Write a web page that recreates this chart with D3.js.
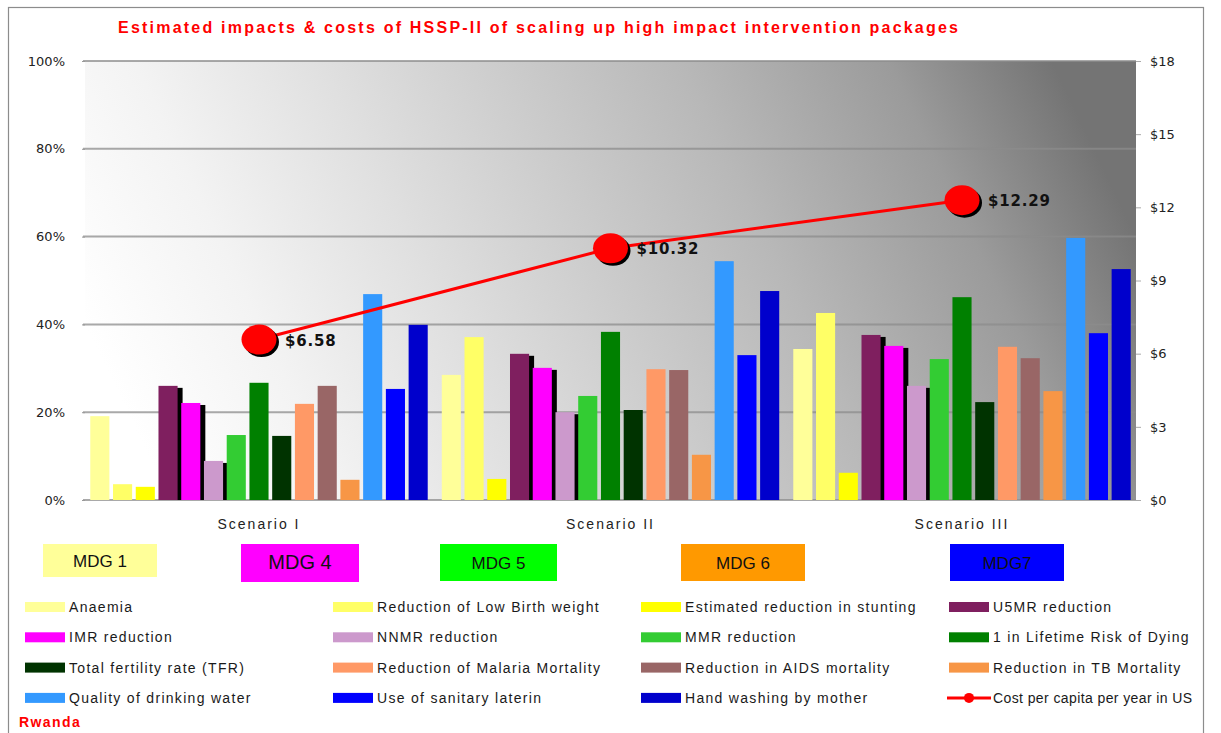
<!DOCTYPE html>
<html>
<head>
<meta charset="utf-8">
<script src="https://cdn.jsdelivr.net/npm/d3@7"></script>
<style>
  body { margin: 0; background: #fff; }
  svg { font-family: 'Liberation Sans', Arial, sans-serif; }
</style>
</head>
<body>
<div id="chart"></div>
<script>
// chart data
var scenarios = ['Scenario I', 'Scenario II', 'Scenario III'];
var seriesNames = ['Anaemia', 'Reduction of Low Birth weight', 'Estimated reduction in stunting', 'U5MR reduction',
	'IMR reduction', 'NNMR reduction', 'MMR reduction', '1 in Lifetime Risk of Dying',
	'Total fertility rate (TFR)', 'Reduction of Malaria Mortality', 'Reduction in AIDS mortality', 'Reduction in TB Mortality',
	'Quality of drinking water', 'Use of sanitary laterin', 'Hand washing by mother'];
var seriesColors = ['#FFFF99', '#FFFF66', '#FFFF00', '#7F1F5F', '#FF00FF', '#CC99CC', '#33CC33', '#008000',
	'#003300', '#FF9966', '#996666', '#F79646', '#3399FF', '#0000FF', '#0000CC'];
var shadowSeries = ['U5MR reduction', 'IMR reduction', 'NNMR reduction'];
// % impact per series, one array per scenario
var scenario1Values = [19.1, 3.6, 3.0, 26.0, 22.1, 8.9, 14.8, 26.7, 14.6, 21.9, 26.0, 4.6, 46.9, 25.3, 39.9];
var scenario2Values = [28.5, 37.1, 4.8, 33.3, 30.1, 20.0, 23.7, 38.3, 20.5, 29.8, 29.6, 10.3, 54.4, 33.0, 47.6];
var scenario3Values = [34.4, 42.6, 6.2, 37.6, 35.1, 26.0, 32.1, 46.2, 22.3, 34.9, 32.3, 24.8, 59.7, 38.0, 52.6];
var costName = 'Cost per capita per year in US';
var costValues = [6.58, 10.32, 12.29];
var leftTicks = [0, 20, 40, 60, 80, 100];
var rightTicks = [0, 3, 6, 9, 12, 15, 18];
var mdgLabels = ['MDG 1', 'MDG 4', 'MDG 5', 'MDG 6', 'MDG7'];
var mdgColors = ['#FFFF99', '#FF00FF', '#00FF00', '#FF9900', '#0000FF'];
var titleText = 'Estimated impacts & costs of HSSP-II of scaling up high impact intervention packages';

var width = 1221, height = 733;
var plot = {left: 85, right: 1136, top: 61, bottom: 500};
var axisFont = "'DejaVu Sans', sans-serif";

var svg = d3.select('#chart').append('svg')
	.attr('width', width)
	.attr('height', height);

var defs = svg.append('defs');
var grad = defs.append('linearGradient').attr('id', 'bgGrad')
	.attr('x1', 0).attr('y1', 0.6).attr('x2', 1).attr('y2', 0.4);
[[0, '#ffffff'], [0.16, '#f3f3f3'], [0.33, '#e0e0e0'], [0.66, '#b8b8b8'], [0.85, '#9b9b9b'], [1, '#747474']]
	.forEach(function(s) {
		grad.append('stop').attr('offset', s[0]).attr('stop-color', s[1]);
	});
defs.append('clipPath').attr('id', 'frameClip')
	.append('rect').attr('x', 8).attr('y', 7).attr('width', 1196).attr('height', 740);

var root = svg.append('g').attr('clip-path', 'url(#frameClip)');

// outer frame
svg.append('rect')
	.attr('x', 8.5).attr('y', 7.5)
	.attr('width', 1195).attr('height', 740)
	.attr('fill', 'none')
	.attr('stroke', '#8c8c8c')
	.attr('stroke-width', 1.2);

// title
root.append('text')
	.attr('x', 538).attr('y', 33)
	.attr('text-anchor', 'middle')
	.attr('fill', '#FF0000')
	.attr('font-weight', 'bold')
	.attr('font-size', 16)
	.attr('textLength', 840)
	.attr('lengthAdjust', 'spacing')
	.text(titleText);

// scales
var x0 = d3.scaleBand().domain(scenarios)
	.range([plot.left, plot.right])
	.paddingInner(0.04).paddingOuter(0.015);
var x1 = d3.scaleBand().domain(seriesNames)
	.range([0, x0.bandwidth()])
	.paddingInner(0.16);
var yL = d3.scaleLinear().domain([0, 100]).range([plot.bottom, plot.top]);
var yR = d3.scaleLinear().domain([0, 18]).range([plot.bottom, plot.top]);

// plot background
root.append('rect')
	.attr('x', plot.left).attr('y', plot.top)
	.attr('width', plot.right - plot.left)
	.attr('height', plot.bottom - plot.top)
	.attr('fill', 'url(#bgGrad)');

// gridlines
root.append('g').selectAll('line')
	.data(leftTicks)
	.enter().append('line')
	.attr('x1', plot.left - 2).attr('x2', plot.right)
	.attr('y1', function(d) { return yL(d); })
	.attr('y2', function(d) { return yL(d); })
	.attr('stroke', '#8c8c8c')
	.attr('stroke-opacity', 0.75)
	.attr('stroke-width', 2);

// left axis
var leftAxis = root.append('g')
	.attr('transform', 'translate(' + plot.left + ',0)')
	.call(d3.axisLeft(yL).tickValues(leftTicks).tickSize(3).tickPadding(17)
		.tickFormat(function(d) { return d + '%'; }));
leftAxis.select('.domain').remove();
leftAxis.selectAll('line').attr('stroke', '#999');
leftAxis.selectAll('text')
	.style('font-family', axisFont)
	.style('font-size', '13px')
	.attr('fill', '#222');

// right axis
var rightAxis = root.append('g')
	.attr('transform', 'translate(' + plot.right + ',0)')
	.call(d3.axisRight(yR).tickValues(rightTicks).tickSize(5).tickPadding(9)
		.tickFormat(function(d) { return '$' + d; }));
rightAxis.select('.domain').remove();
rightAxis.selectAll('line').attr('stroke', '#aaa');
rightAxis.selectAll('text')
	.style('font-family', axisFont)
	.style('font-size', '13px')
	.attr('fill', '#222');

// bars
var allValues = [scenario1Values, scenario2Values, scenario3Values];
var barData = [];
scenarios.forEach(function(s, i) {
	seriesNames.forEach(function(name, j) {
		barData.push({scenario: s, series: name, value: allValues[i][j], color: seriesColors[j]});
	});
});

var barsG = root.append('g');
// black shadows drawn first, behind all bars
barsG.selectAll('.shadow')
	.data(barData.filter(function(d) { return shadowSeries.indexOf(d.series) > -1; }))
	.enter().append('rect')
	.attr('class', 'shadow')
	.attr('x', function(d) { return x0(d.scenario) + x1(d.series) + 5; })
	.attr('y', function(d) { return yL(d.value) + 2; })
	.attr('width', x1.bandwidth())
	.attr('height', function(d) { return plot.bottom - yL(d.value) - 2; })
	.attr('fill', '#000');

barsG.selectAll('.bar')
	.data(barData)
	.enter().append('rect')
	.attr('class', 'bar')
	.attr('x', function(d) { return x0(d.scenario) + x1(d.series); })
	.attr('y', function(d) { return yL(d.value); })
	.attr('width', x1.bandwidth())
	.attr('height', function(d) { return plot.bottom - yL(d.value); })
	.attr('fill', function(d) { return d.color; });

// category labels
root.append('g').selectAll('text')
	.data(scenarios)
	.enter().append('text')
	.attr('x', function(d) { return x0(d) + x0.bandwidth() / 2; })
	.attr('y', 529)
	.attr('text-anchor', 'middle')
	.attr('font-size', 14)
	.attr('letter-spacing', 2)
	.attr('fill', '#222')
	.text(function(d) { return d; });

// cost line
var costData = scenarios.map(function(s, i) { return {scenario: s, value: costValues[i]}; });
var cx = function(d) { return x0(d.scenario) + x0.bandwidth() / 2; };
var line = d3.line()
	.x(cx)
	.y(function(d) { return yR(d.value); });

root.append('path')
	.datum(costData)
	.attr('d', line)
	.attr('fill', 'none')
	.attr('stroke', '#FF0000')
	.attr('stroke-width', 3);

var markers = root.append('g').selectAll('g')
	.data(costData)
	.enter().append('g')
	.attr('transform', function(d) { return 'translate(' + cx(d) + ',' + yR(d.value) + ')'; });
markers.append('ellipse')
	.attr('cx', 2.5).attr('cy', 2.5)
	.attr('rx', 17.5).attr('ry', 15)
	.attr('fill', '#000');
markers.append('ellipse')
	.attr('rx', 17.5).attr('ry', 15)
	.attr('fill', '#FF0000');
markers.append('text')
	.attr('x', 26).attr('y', 6)
	.style('font-family', axisFont)
	.style('font-weight', 'bold')
	.style('font-size', '15px')
	.attr('letter-spacing', 0.8)
	.attr('fill', '#111')
	.text(function(d) { return '$' + d3.format('.2f')(d.value); });

// MDG boxes
var mdgBoxes = [
	{x: 43, w: 114, h: 33, fs: 17},
	{x: 241, w: 118, h: 38, fs: 20},
	{x: 440, w: 117, h: 37, fs: 17},
	{x: 681, w: 124, h: 37, fs: 17},
	{x: 950, w: 114, h: 37, fs: 17}
];
var mdg = root.append('g').selectAll('g')
	.data(mdgLabels)
	.enter().append('g')
	.attr('transform', function(d, i) { return 'translate(' + mdgBoxes[i].x + ',544)'; });
mdg.append('rect')
	.attr('width', function(d, i) { return mdgBoxes[i].w; })
	.attr('height', function(d, i) { return mdgBoxes[i].h; })
	.attr('fill', function(d, i) { return mdgColors[i]; });
mdg.append('text')
	.attr('x', function(d, i) { return mdgBoxes[i].w / 2; })
	.attr('y', function(d, i) { return mdgBoxes[i].h / 2 + 6; })
	.attr('text-anchor', 'middle')
	.attr('font-size', function(d, i) { return mdgBoxes[i].fs; })
	.attr('fill', '#111')
	.text(function(d) { return d; });

// legend
var legendItems = seriesNames.map(function(n, i) { return {name: n, color: seriesColors[i], type: 'bar'}; });
legendItems.push({name: costName, color: '#FF0000', type: 'line'});

var legend = root.append('g').selectAll('g')
	.data(legendItems)
	.enter().append('g')
	.attr('transform', function(d, i) {
		return 'translate(' + (25 + (i % 4) * 308) + ',' + (607 + Math.floor(i / 4) * 30.3) + ')';
	});
legend.filter(function(d) { return d.type === 'bar'; })
	.append('rect')
	.attr('x', 0).attr('y', -5)
	.attr('width', 40).attr('height', 10)
	.attr('fill', function(d) { return d.color; });
var lineItem = legend.filter(function(d) { return d.type === 'line'; });
lineItem.append('line')
	.attr('x1', -2).attr('x2', 42)
	.attr('stroke', '#FF0000').attr('stroke-width', 3);
lineItem.append('circle')
	.attr('cx', 20).attr('r', 5)
	.attr('fill', '#FF0000');
legend.append('text')
	.attr('x', 44).attr('y', 5)
	.attr('font-size', 14)
	.attr('letter-spacing', function(d) { return d.type === 'line' ? 0.4 : 1.3; })
	.attr('fill', '#1a1a1a')
	.text(function(d) { return d.name; });

root.append('text')
	.attr('x', 19).attr('y', 727)
	.attr('font-weight', 'bold')
	.attr('font-size', 14)
	.attr('letter-spacing', 1.4)
	.attr('fill', '#FF0000')
	.text('Rwanda');
</script>
</body>
</html>
